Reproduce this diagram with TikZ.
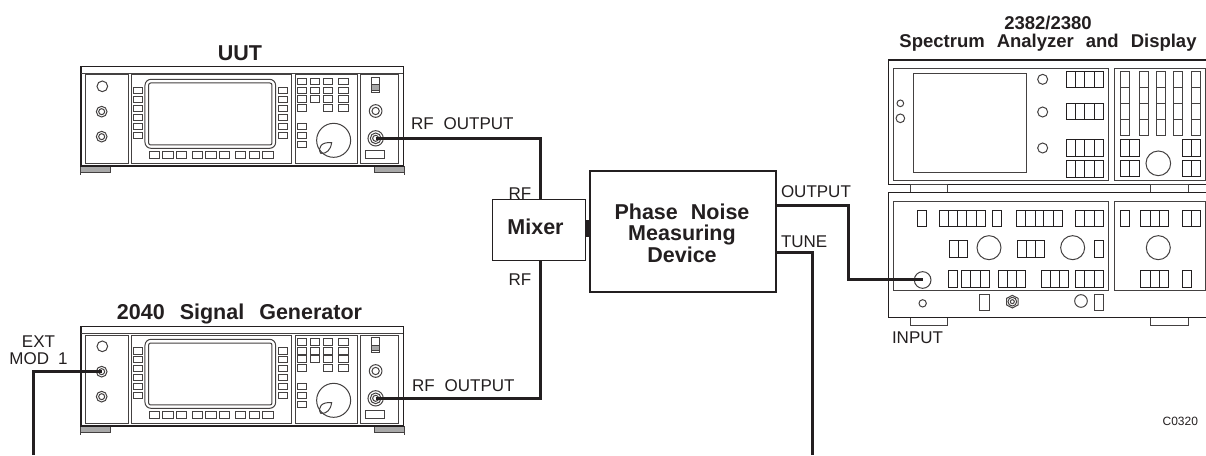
\documentclass[tikz,border=0pt]{standalone}
\usepackage{fontspec}
\setmainfont{Liberation Sans}
\definecolor{ink}{HTML}{231F20}
\definecolor{footg}{HTML}{A8A8A8}
\tikzset{
  every node/.style={text=ink,inner sep=0pt,outer sep=0pt},
  lbl/.style={font=\fontsize{17}{17}\selectfont},
  ttl/.style={font=\fontsize{21.5}{21}\selectfont\bfseries,align=center},
  boxttl/.style={font=\fontsize{21.5}{21.6}\selectfont\bfseries,align=center},
  cable/.style={draw=ink,line width=3pt,line join=miter},
  thin part/.style={draw=ink!85,line width=1pt},
  frame/.style={draw=ink,line width=1.3pt},
  block/.style={draw=ink,fill=white},
}
% one instrument, drawn in 3x-zoom units
\newcommand{\siggen}[3]{%
\begin{scope}[shift={(#2,#3)},x=0.3333pt,y=-0.3333pt,thin part]
  \fill[footg] (30,380) rectangle (122,397);
  \fill[footg] (913,380) rectangle (1005,397);
  \draw (30,405)--(30,380)--(122,380)--(122,397)--(30,397);
  \draw (1005,405)--(1005,380)--(913,380)--(913,397)--(1005,397);
  \draw[frame,fill=white] (33,80) rectangle (1000,378);
  \draw (33,100)--(1000,100);
  \draw (48,105) rectangle (175,370);
  \draw (185,105) rectangle (665,370);
  \draw (676,105) rectangle (862,370);
  \draw (872,105) rectangle (985,370);
  \draw (97,139) circle[radius=16];
  \foreach \cy in {215,290}{\draw (95,\cy) circle[radius=16] (95,\cy) circle[radius=9];}
  \draw[rounded corners=6pt] (225,118) rectangle (617,325);
  \draw[rounded corners=2pt] (236,129) rectangle (606,315);
  \foreach \by in {142,169,196,223,250,277}{
    \draw (190,\by) rectangle +(27,20);
    \draw (627,\by) rectangle +(27,20);}
  \foreach \bx in {239,279,320,367,408,449,497,538,579}{\draw (\bx,335) rectangle +(31,21);}
  \foreach \bx/\by in {683/115,722/115,760/115,807/115,683/142,722/142,760/142,807/142,683/168,722/168,760/168,807/168,683/195,760/195,807/195,683/250,683/277,683/304}{
    \draw (\bx,\by) rectangle +(28,20);}
  \draw (791,301) circle[radius=51];
  \draw (752,340) .. controls (742,322) and (755,305) .. (785,308) .. controls (782,330) and (770,342) .. (752,340);
  \draw (905,112) rectangle (930,158);
  \draw[fill=footg] (905,135) rectangle (930,152);
  \draw (917,213) circle[radius=19] (917,213) circle[radius=11];
  \draw (917,295) circle[radius=23] (917,295) circle[radius=16] (917,295) circle[radius=9];
  \draw (888,332) rectangle (945,356);
  \coordinate (#1rf) at (917,295);
  \coordinate (#1ext) at (95,215);
\end{scope}}
\newcommand{\divblock}[4]{% x0, y0, y1, list of x positions ending with last
  \foreach \xa [remember=\xa as \xp (initially #1)] in {#4}{\draw[block] (\xp,#2) rectangle (\xa,#3);}}
\begin{document}
\begin{tikzpicture}[x=1pt,y=-1pt]
\useasboundingbox (0,0) rectangle (1206,455);
\fill[white] (0,0) rectangle (1206,455);

\siggen{uut}{70}{40}
\siggen{sg}{70}{300}

% analyzer upper unit
\begin{scope}[shift={(880,50)},x=0.3333pt,y=-0.3333pt,thin part]
  \draw[frame] (25,30) -- (978,30) (25,30) -- (25,403) -- (978,403);
  \draw (40,55) rectangle (687,393);
  \draw (703,55) rectangle (976,393);
  \draw (100,70) rectangle (440,367);
  \draw (61,160) circle[radius=10] (61,205) circle[radius=13];
  \foreach \cy in {88,186,294}{\draw (488,\cy) circle[radius=15];}
  \foreach \ya/\yb in {65/112,162/210,270/320,333/383}{\divblock{560}{\ya}{\yb}{588,615,643,670}}
  \foreach \cx in {722,778,830,880,934}{
    \foreach \ya/\yb in {65/112,112/160,160/210,210/258}{\draw (\cx,\ya) rectangle (\cx+28,\yb);}}
  \foreach \ya/\yb in {270/320,333/381}{\divblock{722}{\ya}{\yb}{750,778}\divblock{907}{\ya}{\yb}{935,963}}
  \draw (835,340) circle[radius=37];
\end{scope}

% analyzer lower unit
\begin{scope}[shift={(880,180)},x=0.3333pt,y=-0.3333pt,thin part]
  \draw (90,12) rectangle (202,37);
  \draw (812,12) rectangle (925,37);
  \draw (90,412) rectangle (202,437);
  \draw (812,412) rectangle (925,437);
  \draw[frame] (978,37) -- (25,37) -- (25,412) -- (978,412);
  \draw (40,65) rectangle (687,333);
  \draw (703,65) rectangle (976,333);
  % row 1
  \divblock{113}{90}{140}{140}
  \divblock{177}{90}{140}{205,232,260,288,316}
  \divblock{336}{90}{140}{363}
  \divblock{409}{90}{140}{437,465,492,520,547}
  \divblock{587}{90}{140}{615,643,670}
  \divblock{723}{90}{140}{750}
  \divblock{783}{90}{140}{811,838,866}
  \divblock{907}{90}{140}{935,963}
  % row 2
  \divblock{207}{183}{233}{235,263}
  \draw (327,203) circle[radius=36];
  \divblock{412}{183}{233}{440,467,495}
  \draw (578,203) circle[radius=36];
  \divblock{645}{183}{233}{672}
  \draw (835,203) circle[radius=36];
  % row 3
  \divblock{205}{271}{322}{232}
  \divblock{245}{271}{322}{272,300,327}
  \divblock{355}{271}{322}{383,410,437}
  \divblock{485}{271}{322}{512,540,567}
  \divblock{587}{271}{322}{615,643,670}
  \divblock{783}{271}{322}{811,838,866}
  \divblock{907}{271}{322}{935}
  \draw (128,300) circle[radius=25];
  \coordinate (input) at (128,300);
  % bottom strip
  \draw (128,370) circle[radius=11];
  \draw (299,343) rectangle (327,393);
  \draw (397,346)--(414,355)--(414,375)--(397,384)--(380,375)--(380,355)--cycle;
  \draw (397,365) circle[radius=13] (397,365) circle[radius=6];
  \draw (603,363) circle[radius=19];
  \draw (644,343) rectangle (671,393);
\end{scope}

% label partly hidden by the mixer
\node[lbl] (l3) at (520,193.5) {RF};

% boxes
\node[draw=ink,line width=1pt,fill=white,minimum width=93pt,minimum height=61pt] (mixer) at (538.8,229.5) {};
\node[boxttl] (mixertxt) at (535.5,227) {Mixer};
\node[draw=ink,line width=2pt,fill=white,minimum width=186pt,minimum height=121pt] (pnd) at (683,231) {};
\node[boxttl] (pndtxt) at (682,233) {Phase\hspace{13pt}Noise\\Measuring\\Device};
\fill[ink] (mixer.east |- 0,220) rectangle (pnd.west |- 0,236.7);

% named junction coordinates
\coordinate (mixtop) at (540,199);
\coordinate (mixbot) at (540,260);
\coordinate (pndout) at (776,205.7);
\coordinate (pndtune) at (776,252.3);
\coordinate (cornA) at (848,205.7);
\coordinate (botA) at (33,455);
\coordinate (botB) at (812,455);

% cables
\draw[cable] (uutrf) -| (mixtop);
\draw[cable] (sgrf) -| (mixbot);
\draw[cable] (sgext) -| (botA);
\draw[cable] (pndtune) -| (botB);
\draw[cable] (pndout) -- (cornA) |- (input);

% labels
\node[ttl] (t1) at (240,53) {UUT};
\node[ttl] (t2) at (239.5,314) {2040\hspace{15pt}Signal\hspace{15pt}Generator};
\node[ttl,font=\fontsize{18.5}{18}\selectfont\bfseries] (t3) at (1048,33.5) {2382/2380\\Spectrum\hspace{12pt}Analyzer\hspace{12pt}and\hspace{12pt}Display};
\node[lbl,anchor=west] (l1) at (411,124) {RF\hspace{10pt}OUTPUT};
\node[lbl,anchor=west] (l2) at (412,386) {RF\hspace{10pt}OUTPUT};
\node[lbl] (l4) at (520,280) {RF};
\node[lbl,anchor=west] (l5) at (781,192) {OUTPUT};
\node[lbl,anchor=west] (l6) at (781,242) {TUNE};
\node[lbl,anchor=west] (l7) at (892,338) {INPUT};
\node[lbl,align=center] (l8) at (38.5,350) {EXT\\MOD\hspace{9pt}1};
\node[font=\fontsize{12}{13}\selectfont,anchor=east] (l9) at (1198,421) {C0320};
\end{tikzpicture}
\end{document}
